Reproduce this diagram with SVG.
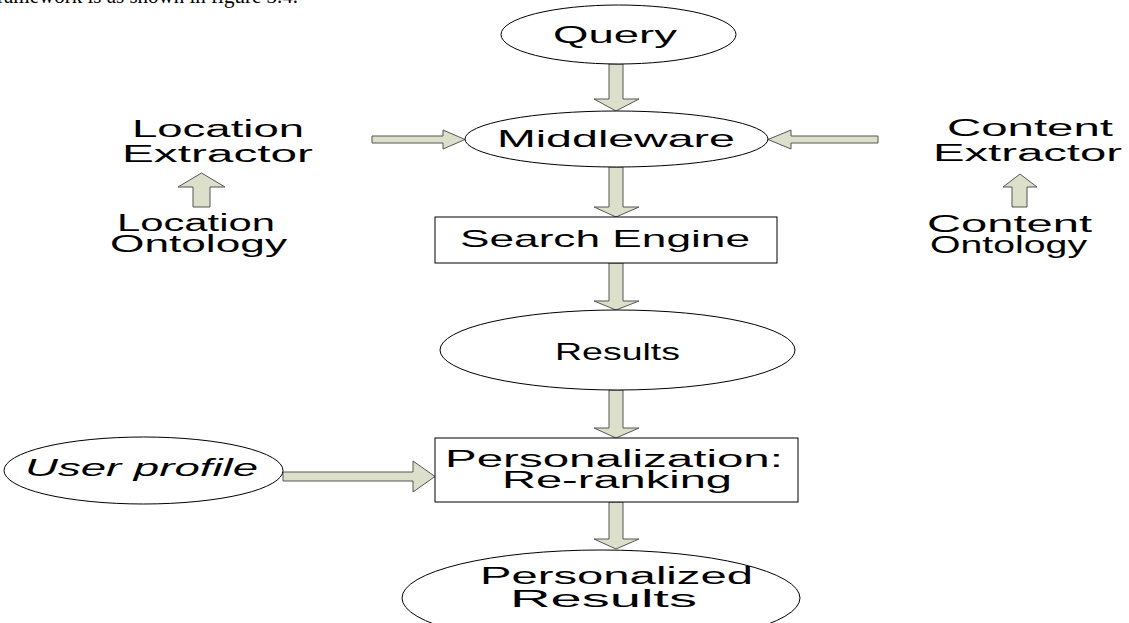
<svg xmlns="http://www.w3.org/2000/svg" width="1129" height="623" viewBox="0 0 1129 623">
<style>
.bg{fill:#ffffff}
.node{fill:#ffffff;stroke:#000000;stroke-width:1}
.arr{fill:#dcdfca;stroke:#555555;stroke-width:1;stroke-linejoin:miter}
.t{font-family:"Liberation Sans",Arial,sans-serif;font-size:24px;fill:#000000}
.t2{font-family:"Liberation Sans",Arial,sans-serif;font-size:23px;fill:#000000}
.ti{font-family:"Liberation Sans",Arial,sans-serif;font-size:24px;font-style:italic;fill:#000000}
.cap{font-family:"Liberation Serif","Times New Roman",serif;font-size:21px;fill:#000000}
</style>
<rect class="bg" x="0" y="0" width="1129" height="623"/>
<text class="cap" x="298" y="3" text-anchor="end">framework is as shown in figure 3.4.</text>

<g id="connectors">
  <polygon class="arr" points="609,64 623,64 623,99 639,99 616,111 594,99 609,99"/>
  <polygon class="arr" points="609,167 623,167 623,207 639,207 616,217 594,207 609,207"/>
  <polygon class="arr" points="609,263 623,263 623,301 639,301 616,310 594,301 609,301"/>
  <polygon class="arr" points="609,390 623,390 623,428 639,428 616,438 594,428 609,428"/>
  <polygon class="arr" points="609,502 623,502 623,539 639,539 616,549 594,539 609,539"/>
  <polygon class="arr" points="372,136 443,136 443,130 465,139.5 443,149 443,143 372,143"/>
  <polygon class="arr" points="878,136 791,136 791,130 768,139.5 791,149 791,143 878,143"/>
  <polygon class="arr" points="193,207 193,187 178,187 201.5,173 225,187 210,187 210,207"/>
  <polygon class="arr" points="1012,207 1012,187 1003,187 1020,174 1037,187 1027,187 1027,207"/>
  <polygon class="arr" points="283,472 413,472 413,461 435,476.5 413,492 413,481 283,481"/>
</g>

<g id="query">
  <ellipse class="node" cx="618.5" cy="34.5" rx="117.5" ry="29.5"/>
  <text class="t" x="553" y="43" textLength="124" lengthAdjust="spacingAndGlyphs">Query</text>
</g>
<g id="middleware">
  <ellipse class="node" cx="616.5" cy="139" rx="151.5" ry="28"/>
  <text class="t" x="497" y="147" textLength="238" lengthAdjust="spacingAndGlyphs">Middleware</text>
</g>
<g id="location-extractor">
  <text class="t2" x="132" y="137" textLength="172" lengthAdjust="spacingAndGlyphs">Location</text>
  <text class="t2" x="122" y="162" textLength="191" lengthAdjust="spacingAndGlyphs">Extractor</text>
</g>
<g id="location-ontology">
  <text class="t2" x="117" y="231" textLength="158" lengthAdjust="spacingAndGlyphs" fill="#222">Location</text>
  <text class="t2" x="110" y="252" textLength="177" lengthAdjust="spacingAndGlyphs" fill="#222">Ontology</text>
</g>
<g id="content-extractor">
  <text class="t2" x="947" y="136" textLength="166" lengthAdjust="spacingAndGlyphs">Content</text>
  <text class="t2" x="933" y="161" textLength="189" lengthAdjust="spacingAndGlyphs">Extractor</text>
</g>
<g id="content-ontology">
  <text class="t2" x="927" y="232" textLength="165" lengthAdjust="spacingAndGlyphs">Content</text>
  <text class="t2" x="930" y="253" textLength="157" lengthAdjust="spacingAndGlyphs" fill="#222">Ontology</text>
</g>
<g id="search-engine">
  <rect class="node" x="435" y="217" width="342" height="46"/>
  <text class="t" x="460" y="247" textLength="290" lengthAdjust="spacingAndGlyphs">Search Engine</text>
</g>
<g id="results">
  <ellipse class="node" cx="617.5" cy="350" rx="177.5" ry="40"/>
  <text class="t" x="555" y="360" textLength="125" lengthAdjust="spacingAndGlyphs">Results</text>
</g>
<g id="user-profile">
  <ellipse class="node" cx="143.5" cy="470.5" rx="139.5" ry="33.5"/>
  <text class="ti" x="25" y="476" textLength="233" lengthAdjust="spacingAndGlyphs">User profile</text>
</g>
<g id="personalization">
  <rect class="node" x="435" y="438" width="363" height="64"/>
  <text class="t2" x="445" y="467" textLength="338" lengthAdjust="spacingAndGlyphs">Personalization:</text>
  <text class="t2" x="502" y="488" textLength="230" lengthAdjust="spacingAndGlyphs">Re-ranking</text>
</g>
<g id="personalized-results">
  <ellipse class="node" cx="601" cy="598" rx="199" ry="48"/>
  <text class="t2" x="480" y="584" textLength="273" lengthAdjust="spacingAndGlyphs">Personalized</text>
  <text class="t2" x="510" y="607" textLength="187" lengthAdjust="spacingAndGlyphs">Results</text>
</g>
</svg>
